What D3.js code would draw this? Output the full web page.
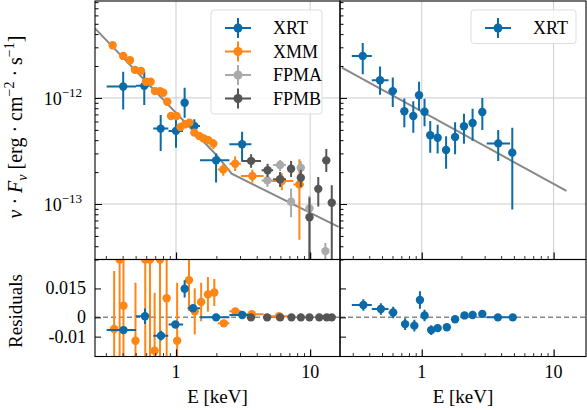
<!DOCTYPE html>
<html><head><meta charset="utf-8">
<script src="https://cdn.jsdelivr.net/npm/d3@7"></script>
<style>body{margin:0;background:#fff}svg{display:block}text{font-family:"Liberation Serif","DejaVu Serif",serif}</style>
</head><body><svg id="c" width="587" height="410"></svg>
<script>
// [E, F, Elo, Ehi, Flo, Fhi]  (null = no error bar)
const xrtLeft = [
 [0.404,1.28e-12,0.304,0.503,7.8e-13,1.77e-12],
 [0.580,1.30e-12,0.503,0.632,8.6e-13,1.77e-12],
 [0.769,5.14e-13,0.677,0.876,3.16e-13,6.9e-13],
 [1.00,4.89e-13,0.88,1.13,3.4e-13,6.76e-13],
 [1.16,9.0e-13,1.10,1.22,6.5e-13,1.25e-12],
 [1.37,5.44e-13,1.22,1.51,4.6e-13,6.3e-13],
 [1.99,2.58e-13,1.51,2.50,1.6e-13,3.0e-13],
 [3.11,3.66e-13,2.50,3.65,2.5e-13,4.8e-13]
];
const xmm = [
 [0.337,3.14e-12],[0.404,2.49e-12],[0.454,2.27e-12],[0.494,1.84e-12],[0.548,1.80e-12],
 [0.597,1.42e-12],[0.647,1.42e-12],[0.697,1.16e-12],[0.760,1.16e-12],[0.804,1.12e-12],
 [0.861,9.2e-13],[0.918,6.76e-13],[1.01,6.76e-13],[1.08,5.33e-13],[1.17,5.65e-13],
 [1.26,5.85e-13],[1.37,4.71e-13],[1.49,4.38e-13],[1.60,4.17e-13],[1.74,3.99e-13],
 [1.90,3.71e-13,1.82,1.98,3.3e-13,4.1e-13],
 [2.25,2.12e-13,2.05,2.50,1.85e-13,2.4e-13],
 [2.76,2.40e-13,2.50,3.05,2.05e-13,2.8e-13],
 [3.71,1.84e-13,3.05,4.50,1.6e-13,2.1e-13],
 [6.15,1.65e-13,4.80,7.50,1.35e-13,1.95e-13],
 [8.32,1.53e-13,7.50,9.00,4.6e-14,2.64e-13]
];
const fpma = [
 [4.80,1.67e-13,4.35,5.30,1.45e-13,1.9e-13],
 [5.97,2.33e-13,5.30,6.60,2.05e-13,2.6e-13],
 [7.21,1.05e-13,6.80,7.70,7.5e-14,1.4e-13],
 [8.52,2.20e-13,8.10,8.95,1.85e-13,2.55e-13],
 [9.89,9.1e-14,9.45,10.3,3.0e-14,1.2e-13],
 [13.0,3.6e-14,12.6,13.4,3.0e-14,4.3e-14]
];
const fpmb = [
 [3.63,2.55e-13,3.10,4.30,2.2e-13,2.95e-13],
 [4.82,2.08e-13,4.35,5.30,1.8e-13,2.4e-13],
 [5.97,1.71e-13,5.30,6.60,1.45e-13,2.0e-13],
 [7.21,2.15e-13,6.80,7.70,1.8e-13,2.55e-13],
 [8.52,1.77e-13,8.10,8.95,1.45e-13,2.1e-13],
 [9.89,7.5e-14,9.45,10.3,3.0e-14,1.15e-13],
 [11.5,1.39e-13,11.0,12.0,9.5e-14,1.8e-13],
 [13.2,2.58e-13,12.7,13.7,2.0e-13,3.3e-13],
 [14.5,1.03e-13,14.0,15.0,3.0e-14,1.5e-13]
];
const modelLeft = [[0.25,4.5e-12],[2.0,2.9e-13],[2.6,1.93e-13],[16.3,6.1e-14]];
const xrtRight = [
 [0.357,2.49e-12,0.295,0.418,1.67e-12,3.3e-12],
 [0.483,1.47e-12,0.418,0.56,1.07e-12,1.98e-12],
 [0.603,1.16e-12,0.56,0.65,8.2e-13,1.56e-12],
 [0.738,7.5e-13,null,null,5.3e-13,9.9e-13],
 [0.863,6.76e-13,null,null,4.7e-13,9.3e-13],
 [0.954,1.06e-12,null,null,7.6e-13,1.42e-12],
 [1.05,7.4e-13,null,null,5.4e-13,9.8e-13],
 [1.16,4.45e-13,null,null,3.05e-13,6.05e-13],
 [1.32,4.22e-13,null,null,3.0e-13,5.6e-13],
 [1.53,3.23e-13,null,null,2.15e-13,4.35e-13],
 [1.79,4.28e-13,null,null,2.95e-13,5.9e-13],
 [2.09,5.41e-13,null,null,3.7e-13,7.1e-13],
 [2.43,5.81e-13,null,null,3.95e-13,7.9e-13],
 [2.88,7.38e-13,null,null,5.0e-13,1.0e-12],
 [3.80,3.73e-13,3.11,4.67,2.55e-13,5.0e-13],
 [4.86,3.05e-13,null,null,8.9e-14,5.25e-13]
];
const modelRight = [[0.248,1.93e-12],[12.5,1.33e-13]];
// residuals [E, r, Elo, Ehi, err]
const resXmm = [
 [0.346,-0.0060,null,null,0.03],[0.406,0.0060,null,null,0.03],[0.499,-0.0121,null,null,0.03],
 [0.693,-0.0173,null,null,0.03],[0.852,0.0099,null,null,0.03],[1.02,-0.0121,null,null,0.03],
 [1.25,0.0193,null,null,0.016],[1.38,0.0031,null,null,0.012],[1.54,0.0080,null,null,0.01],
 [1.73,0.0119,null,null,0.009],[1.93,0.0129,null,null,0.007],[2.27,-0.0031,2.05,2.50,0.0015],
 [2.77,0.0031,2.50,3.05,0.001],[3.67,0.0016,3.05,4.5,0.0006],[5.87,0.0006,4.8,7.5,0.0004],
 [0.38,0.03,null,null,0.06],[0.59,0.03,null,null,0.06],[0.64,0.03,null,null,0.06],[0.76,0.03,null,null,0.06]
];
const resXrtL = [
 [0.406,-0.0066,0.304,0.503,0.0015],[0.587,0.0006,0.503,0.632,0.004],[0.773,-0.0095,0.677,0.876,0.0025],
 [0.99,-0.0037,0.88,1.13,0.0015],[1.16,0.0148,null,null,0.0045],[1.34,0.0047,1.22,1.51,0.0015],
 [1.99,0.0,1.51,2.5,0.0006],[3.12,0.0012,2.5,3.65,0.0005]
];
const resFpm = [[3.62,0],[4.78,0],[5.98,0],[7.26,0],[8.53,0],[9.89,0],[11.7,0],[13.3,0],[14.5,0]];
const resXrtR = [
 [0.361,0.0064,0.295,0.418,0.003],[0.490,0.0043,0.418,0.56,0.003],[0.607,0.0025,0.56,0.65,0.003],
 [0.748,-0.0035,null,null,0.003],[0.879,-0.0043,null,null,0.003],[0.969,0.0090,null,null,0.0045],
 [1.05,0.0010,null,null,0.003],[1.18,-0.0066,null,null,0.0025],[1.32,-0.0056,null,null,0.002],
 [1.55,-0.0051,null,null,0.0012],[1.79,-0.0010,null,null,0.0008],[2.11,0.0010,null,null,0.0006],
 [2.43,0.0012,null,null,0.0005],[2.88,0.0018,null,null,0.0006],[3.78,0,3.11,4.67,0.0004],[4.90,0,null,null,0.0004]
];
const xTicks = [1,10], yTicks = [1e-12,1e-13], rTicks = [0.015,0,-0.01];
const rTickLabels = ["0.015","0","-0.01"];

const C = {xrt:"#0b6aa8", xmm:"#ff8514", fpma:"#aaaaaa", fpmb:"#555555"};
const svg = d3.select("#c");
const T = 1, M = 259.5, B = 356.5;
const yTop = d3.scaleLog().domain([3.0e-14, 8.2e-12]).range([M, T]);
const yRes = d3.scaleLinear().domain([-0.0203, 0.030]).range([B, M]);
const panels = [
 {x: d3.scaleLog().domain([0.249,16.7]).range([95,340]), x0:95, x1:340},
 {x: d3.scaleLog().domain([0.240,17.6]).range([340,586]), x0:340, x1:586}
];
let cid=0;
function panel(p, y, t0, t1, drawFn, grid){
  const id = "cl"+(cid++);
  svg.append("clipPath").attr("id",id).append("rect").attr("x",p.x0).attr("y",t0).attr("width",p.x1-p.x0).attr("height",t1-t0);
  const g = svg.append("g");
  if(grid){
    xTicks.forEach(v=>g.append("line").attr("x1",p.x(v)).attr("x2",p.x(v)).attr("y1",t0).attr("y2",t1).attr("stroke","#ccc").attr("stroke-width",1));
    yTicks.forEach(v=>g.append("line").attr("x1",p.x0).attr("x2",p.x1).attr("y1",y(v)).attr("y2",y(v)).attr("stroke","#ccc").attr("stroke-width",1));
  }
  const inner = g.append("g").attr("clip-path",`url(#${id})`);
  drawFn(inner);
  const ax = d3.axisBottom(p.x).tickSizeInner(-6).tickSizeOuter(0).tickFormat("");
  const ay = y.base ? d3.axisLeft(y).tickSizeInner(-6).tickSizeOuter(0).tickFormat("") : d3.axisLeft(y).tickValues(rTicks).tickSizeInner(-6).tickSizeOuter(0).tickFormat("");
  const gx = g.append("g").attr("transform",`translate(0,${t1})`).call(ax);
  gx.selectAll(".tick line").attr("stroke-width",d=>[1,10].includes(d)?1.2:0.8)
    .attr("y2",d=>[1,10].includes(d)?-7:-3.5);
  const gy = g.append("g").attr("transform",`translate(${p.x0},0)`).call(ay);
  if(y.base) gy.selectAll(".tick line").attr("x2",d=>yTicks.includes(d)?7:3.5);
  [gx,gy].forEach(a=>a.select(".domain").remove());
  g.append("rect").attr("x",p.x0).attr("y",t0).attr("width",p.x1-p.x0).attr("height",t1-t0).attr("fill","none").attr("stroke","#000").attr("stroke-width",1.1);
}
function pts(g, x, y, data, col, r=4.2){
  data.forEach(d=>{
    const cx=x(d[0]), cy=y(d[1]);
    if(d[2]!=null) g.append("line").attr("x1",x(d[2])).attr("x2",x(d[3])).attr("y1",cy).attr("y2",cy).attr("stroke",col).attr("stroke-width",2);
    if(d[4]!=null) g.append("line").attr("x1",cx).attr("x2",cx).attr("y1",y(d[4])).attr("y2",y(d[5])).attr("stroke",col).attr("stroke-width",2);
    g.append("circle").attr("cx",cx).attr("cy",cy).attr("r",r).attr("fill",col);
  });
}
function resPts(g,x,data,col){
  pts(g,x,yRes,data.map(d=>[d[0],d[1],d[2],d[3],d[4]!=null?d[1]-d[4]:null,d[4]!=null?d[1]+d[4]:null]),col);
}
const line = (x,y)=>d3.line().x(d=>x(d[0])).y(d=>y(d[1]));
panel(panels[0], yTop, T, M, g=>{
  g.append("path").datum(modelLeft).attr("d",line(panels[0].x,yTop)).attr("fill","none").attr("stroke","#888").attr("stroke-width",2);
  pts(g,panels[0].x,yTop,xrtLeft,C.xrt);
  pts(g,panels[0].x,yTop,xmm,C.xmm);
  pts(g,panels[0].x,yTop,fpma,C.fpma);
  pts(g,panels[0].x,yTop,fpmb,C.fpmb);
}, true);
panel(panels[1], yTop, T, M, g=>{
  g.append("path").datum(modelRight).attr("d",line(panels[1].x,yTop)).attr("fill","none").attr("stroke","#888").attr("stroke-width",2);
  pts(g,panels[1].x,yTop,xrtRight,C.xrt);
}, true);
panel(panels[0], yRes, M, B, g=>{
  g.append("line").attr("x1",95).attr("x2",340).attr("y1",yRes(0)).attr("y2",yRes(0)).attr("stroke","#888").attr("stroke-width",1.5).attr("stroke-dasharray","5,3");
  resPts(g,panels[0].x,resXmm,C.xmm);
  resPts(g,panels[0].x,resXrtL,C.xrt);
  resPts(g,panels[0].x,resFpm.map(d=>[d[0],d[1],null,null,null]),C.fpmb);
}, false);
panel(panels[1], yRes, M, B, g=>{
  g.append("line").attr("x1",340).attr("x2",586).attr("y1",yRes(0)).attr("y2",yRes(0)).attr("stroke","#888").attr("stroke-width",1.5).attr("stroke-dasharray","5,3");
  resPts(g,panels[1].x,resXrtR,C.xrt);
}, false);
// tick labels
panels.forEach(p=>xTicks.forEach(v=>svg.append("text").attr("x",p.x(v)).attr("y",B+21).attr("text-anchor","middle").attr("font-size",18).text(v)));
panels.forEach(p=>svg.append("text").attr("x",(p.x0+p.x1)/2).attr("y",B+46).attr("text-anchor","middle").attr("font-size",19).text("E [keV]"));
yTicks.forEach((v,i)=>{
  const t=svg.append("text").attr("x",82).attr("y",yTop(v)+7).attr("text-anchor","end").attr("font-size",18);
  t.append("tspan").text("10");
  t.append("tspan").attr("dy",-8).attr("font-size",13).text(i===0?"−12":"−13");
});
rTicks.forEach((v,i)=>svg.append("text").attr("x",86).attr("y",yRes(v)+6).attr("text-anchor","end").attr("font-size",18).text(rTickLabels[i]));
// y labels
const yl = svg.append("text").attr("transform","translate(22,127) rotate(-90)").attr("text-anchor","middle").attr("font-size",20);
yl.append("tspan").attr("font-style","italic").text("ν");
yl.append("tspan").text(" · ");
yl.append("tspan").attr("font-style","italic").text("F");
yl.append("tspan").attr("font-style","italic").attr("font-size",14).attr("dy",5).text("ν");
yl.append("tspan").attr("dy",-5).text("  [erg · cm");
yl.append("tspan").attr("dy",-8).attr("font-size",14).text("−2");
yl.append("tspan").attr("dy",8).text(" · s");
yl.append("tspan").attr("dy",-8).attr("font-size",14).text("−1");
yl.append("tspan").attr("dy",8).text("]");
svg.append("text").attr("transform","translate(22,311) rotate(-90)").attr("text-anchor","middle").attr("font-size",19).text("Residuals");
// legends
function legend(x,y,w,items){
  const h = items.length*23.5+10;
  svg.append("rect").attr("x",x).attr("y",y).attr("width",w).attr("height",h).attr("rx",3).attr("fill","#fff").attr("fill-opacity",0.85).attr("stroke","#ddd");
  items.forEach((it,i)=>{
    const cy=y+18+i*23.5, cx=x+27;
    svg.append("line").attr("x1",cx-13).attr("x2",cx+13).attr("y1",cy).attr("y2",cy).attr("stroke",it[1]).attr("stroke-width",2);
    svg.append("line").attr("x1",cx).attr("x2",cx).attr("y1",cy-10).attr("y2",cy+10).attr("stroke",it[1]).attr("stroke-width",2);
    svg.append("circle").attr("cx",cx).attr("cy",cy).attr("r",4.5).attr("fill",it[1]);
    svg.append("text").attr("x",x+62).attr("y",cy+6).attr("font-size",18).text(it[0]);
  });
}
legend(211,10,111,[["XRT",C.xrt],["XMM",C.xmm],["FPMA",C.fpma],["FPMB",C.fpmb]]);
legend(471,10,105,[["XRT",C.xrt]]);
</script></body></html>
